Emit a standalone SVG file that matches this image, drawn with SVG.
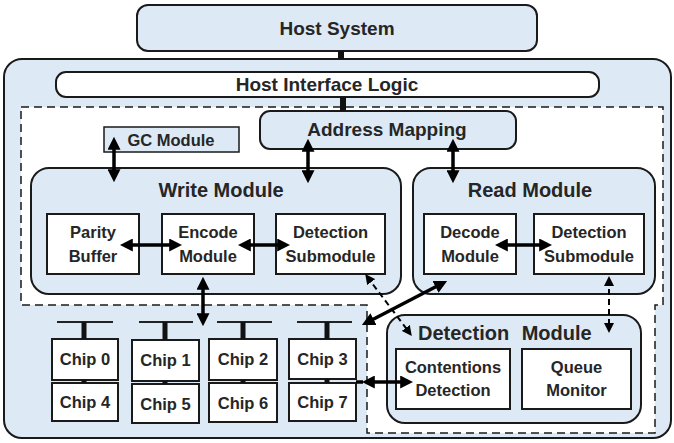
<svg xmlns="http://www.w3.org/2000/svg" width="674" height="443" viewBox="0 0 674 443">
<style>
.blue{fill:#DDEAF6;stroke:#1a1a1a;stroke-width:2}
.white{fill:#ffffff;stroke:#1a1a1a;stroke-width:2}
.t{font-family:"Liberation Sans",Arial,sans-serif;font-weight:bold;fill:#262626;text-anchor:middle}
.h{font-size:19px}
.m{font-size:20px}
.s{font-size:16.5px}
.arr{stroke:#000;stroke-width:3.5;fill:none;marker-start:url(#ah);marker-end:url(#ah)}
.darr{stroke:#000;stroke-width:2;stroke-dasharray:6 4;fill:none;marker-start:url(#dh);marker-end:url(#dh)}
.thick{stroke:#111;stroke-width:6}
.bus{stroke:#222;stroke-width:2}
.stub{stroke:#111;stroke-width:5}
</style>
<defs>
<marker id="ah" viewBox="0 0 10 10" refX="6" refY="5" markerWidth="13" markerHeight="13" markerUnits="userSpaceOnUse" orient="auto-start-reverse"><path d="M0,0 L10,5 L0,10 z" fill="#000"/></marker>
<marker id="dh" viewBox="0 0 10 10" refX="7" refY="5" markerWidth="10" markerHeight="10" markerUnits="userSpaceOnUse" orient="auto-start-reverse"><path d="M0,0 L10,5 L0,10 z" fill="#000"/></marker>
</defs>

<g id="controller">
<rect x="4" y="59" width="667" height="379" rx="18" class="blue"/>
</g>
<path id="dashed-region" d="M21,107 H663 V305 H655 V433 H367 V305 H21 Z" fill="#fff" stroke="#1a1a1a" stroke-width="1.5" stroke-dasharray="8 5"/>

<g id="host-system">
<rect x="137" y="5" width="400" height="46" rx="11" class="blue"/>
<text x="337" y="35" class="t h">Host System</text>
</g>
<g id="host-interface-logic">
<rect x="56" y="72" width="543" height="25" rx="10" class="white"/>
<text x="327" y="91" class="t h">Host Interface Logic</text>
</g>
<g id="address-mapping">
<rect x="260" y="111" width="256" height="38" rx="10" class="blue"/>
<text x="387" y="136" class="t h">Address Mapping</text>
</g>
<g id="gc-module">
<rect x="104" y="127" width="135" height="25" fill="#DDEAF6" stroke="#1a1a1a" stroke-width="1.5"/>
<text x="171" y="146" class="t s">GC Module</text>
</g>
<g id="write-module">
<rect x="31" y="168" width="370" height="126" rx="18" class="blue"/>
<text x="221" y="197" class="t m">Write Module</text>
</g>
<g id="parity-buffer">
<rect x="47" y="214" width="92" height="60" class="white"/>
<text x="93" y="238" class="t s">Parity</text>
<text x="93" y="262" class="t s">Buffer</text>
</g>
<g id="encode-module">
<rect x="162" y="214" width="92" height="60" class="white"/>
<text x="208" y="238" class="t s">Encode</text>
<text x="208" y="262" class="t s">Module</text>
</g>
<g id="write-detection-submodule">
<rect x="276" y="214" width="109" height="60" class="white"/>
<text x="330.5" y="238" class="t s">Detection</text>
<text x="330.5" y="262" class="t s">Submodule</text>
</g>
<g id="read-module">
<rect x="413" y="168" width="242" height="126" rx="18" class="blue"/>
<text x="530" y="197" class="t m">Read Module</text>
</g>
<g id="decode-module">
<rect x="424" y="214" width="92" height="60" class="white"/>
<text x="470" y="238" class="t s">Decode</text>
<text x="470" y="262" class="t s">Module</text>
</g>
<g id="read-detection-submodule">
<rect x="534" y="214" width="110" height="60" class="white"/>
<text x="589" y="238" class="t s">Detection</text>
<text x="589" y="262" class="t s">Submodule</text>
</g>
<g id="detection-module">
<rect x="387" y="315" width="254" height="108" rx="18" class="blue"/>
<text x="418" y="340" class="t m" style="text-anchor:start;word-spacing:7px">Detection Module</text>
</g>
<g id="contentions-detection">
<rect x="396" y="349" width="114" height="60" class="white"/>
<text x="453" y="373" class="t s">Contentions</text>
<text x="453" y="396" class="t s">Detection</text>
</g>
<g id="queue-monitor">
<rect x="522" y="349" width="109" height="60" class="white"/>
<text x="576.5" y="373" class="t s">Queue</text>
<text x="576.5" y="396" class="t s">Monitor</text>
</g>

<g id="chip-0"><rect x="52" y="339" width="66" height="41" class="white"/><text x="85" y="365" class="t s">Chip 0</text></g>
<g id="chip-4"><rect x="52" y="383" width="66" height="38" class="white"/><text x="85" y="408" class="t s">Chip 4</text></g>
<g id="chip-1"><rect x="132" y="340" width="67" height="41" class="white"/><text x="165.5" y="366" class="t s">Chip 1</text></g>
<g id="chip-5"><rect x="132" y="384" width="67" height="39" class="white"/><text x="165.5" y="410" class="t s">Chip 5</text></g>
<g id="chip-2"><rect x="209" y="339" width="68" height="41" class="white"/><text x="243" y="365" class="t s">Chip 2</text></g>
<g id="chip-6"><rect x="209" y="383" width="68" height="39" class="white"/><text x="243" y="409" class="t s">Chip 6</text></g>
<g id="chip-3"><rect x="289" y="339" width="67" height="40" class="white"/><text x="322.5" y="365" class="t s">Chip 3</text></g>
<g id="chip-7"><rect x="289" y="383" width="67" height="38" class="white"/><text x="322.5" y="408" class="t s">Chip 7</text></g>

<g id="connectors">
<line x1="341" y1="51" x2="341" y2="59" class="thick"/>
<line x1="343" y1="97" x2="343" y2="111" class="thick"/>
<line x1="57" y1="322" x2="113" y2="322" class="bus"/>
<line x1="139" y1="322" x2="193" y2="322" class="bus"/>
<line x1="217" y1="322" x2="272" y2="322" class="bus"/>
<line x1="297" y1="322" x2="352" y2="322" class="bus"/>
<line x1="84" y1="322" x2="84" y2="339" class="stub"/>
<line x1="165" y1="322" x2="165" y2="340" class="stub"/>
<line x1="243" y1="322" x2="243" y2="339" class="stub"/>
<line x1="327" y1="322" x2="327" y2="339" class="stub"/>
<line x1="84" y1="380" x2="84" y2="383" class="stub"/>
<line x1="165" y1="381" x2="165" y2="384" class="stub"/>
<line x1="243" y1="380" x2="243" y2="383" class="stub"/>
<line x1="327" y1="379" x2="327" y2="383" class="stub"/>
<line x1="114" y1="142" x2="114" y2="177" class="arr"/>
<line x1="308" y1="144" x2="308" y2="178" class="arr"/>
<line x1="453" y1="144" x2="453" y2="178" class="arr"/>
<line x1="125" y1="245" x2="177" y2="245" class="arr"/>
<line x1="243" y1="245" x2="285" y2="245" class="arr"/>
<line x1="500" y1="245" x2="547" y2="245" class="arr"/>
<line x1="203" y1="282" x2="203" y2="321" class="arr"/>
<line x1="442.5" y1="283.3" x2="366.5" y2="322.7" class="arr"/>
<line x1="356" y1="382" x2="363" y2="382" stroke="#000" stroke-width="3.5"/>
<line x1="367" y1="382" x2="408" y2="382" class="arr"/>
<line x1="367" y1="276.5" x2="410" y2="333.5" class="darr"/>
<line x1="609" y1="279" x2="609" y2="330" class="darr"/>
</g>
</svg>
